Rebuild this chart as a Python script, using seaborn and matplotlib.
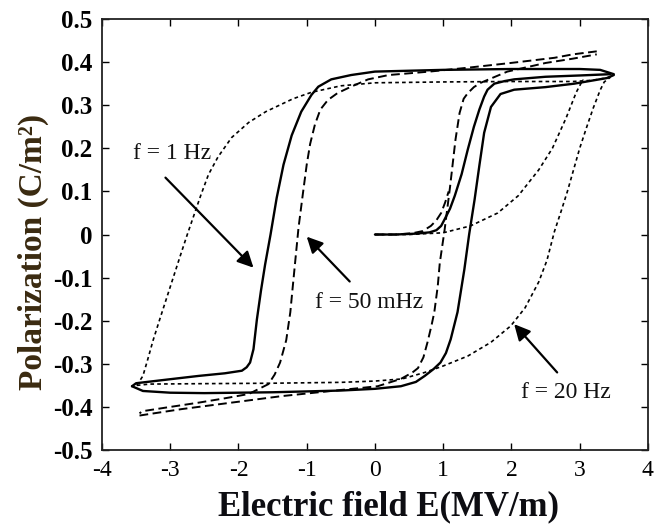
import matplotlib
matplotlib.use("Agg")
import matplotlib.pyplot as plt
import seaborn as sns
import pandas as pd

# ---- P-E hysteresis data (E in MV/m, P in C/m^2) ----
# f = 1 Hz (solid)
E_1hz_up = [-3.56, -3.4, -3.0, -2.5, -1.5, -0.5, 0.0, 0.38, 0.6, 0.73, 0.86, 0.96, 1.04,
            1.11, 1.21, 1.31, 1.38, 1.46, 1.53, 1.6, 1.7, 1.84, 2.04, 2.5, 2.92, 3.4, 3.5]
P_1hz_up = [-0.352, -0.363, -0.367, -0.368, -0.366, -0.362, -0.358, -0.352, -0.342, -0.328,
            -0.312, -0.297, -0.275, -0.243, -0.18, -0.081, 0.0, 0.081, 0.16, 0.236, 0.296,
            0.326, 0.336, 0.342, 0.35, 0.363, 0.37]
E_1hz_down = [3.5, 3.3, 3.0, 2.0, 1.0, 0.0, -0.35, -0.64, -0.83, -0.93, -1.08, -1.22, -1.34,
              -1.44, -1.53, -1.61, -1.67, -1.73, -1.78, -1.83, -1.88, -1.95, -2.2, -2.58,
              -3.07, -3.5, -3.56]
P_1hz_down = [0.372, 0.382, 0.384, 0.384, 0.382, 0.378, 0.37, 0.36, 0.343, 0.324, 0.285,
              0.23, 0.162, 0.085, 0.0, -0.07, -0.13, -0.197, -0.266, -0.297, -0.308,
              -0.316, -0.322, -0.328, -0.337, -0.345, -0.352]
E_1hz_init = [0.0, 0.3, 0.6, 0.8, 0.9, 0.97, 1.02, 1.1, 1.17, 1.27, 1.36, 1.45, 1.53, 1.6,
              1.65, 1.75, 1.9, 2.04, 2.5, 3.0, 3.45]
P_1hz_init = [0.0, 0.0, 0.002, 0.005, 0.01, 0.02, 0.035, 0.06, 0.09, 0.14, 0.197, 0.25,
              0.29, 0.32, 0.336, 0.35, 0.356, 0.36, 0.366, 0.369, 0.372]

# f = 50 mHz (long dashes)
E_50m_up = [-3.45, -2.83, -2.1, -1.37, -0.64, 0.04, 0.38, 0.55, 0.63, 0.71, 0.77, 0.83,
            0.87, 0.92, 0.95, 1.02, 1.1, 1.18, 1.24, 1.3, 1.36, 1.45, 1.55, 1.94, 2.5, 2.9,
            3.25]
P_50m_up = [-0.42, -0.405, -0.39, -0.375, -0.363, -0.352, -0.335, -0.32, -0.31, -0.285,
            -0.25, -0.21, -0.18, -0.12, -0.066, 0.01, 0.11, 0.22, 0.282, 0.315, 0.328,
            0.342, 0.352, 0.378, 0.398, 0.408, 0.418]
E_50m_down = [3.25, 2.9, 2.63, 1.99, 1.36, 0.8, 0.2, -0.1, -0.35, -0.55, -0.69, -0.8, -0.88,
              -0.95, -1.0, -1.06, -1.12, -1.17, -1.21, -1.24, -1.3, -1.39, -1.47, -1.56,
              -1.85, -2.2, -2.58, -3.0, -3.41, -3.45]
P_50m_down = [0.425, 0.418, 0.41, 0.398, 0.387, 0.378, 0.37, 0.36, 0.343, 0.328, 0.312,
              0.29, 0.255, 0.21, 0.162, 0.09, 0.016, -0.065, -0.13, -0.18, -0.245, -0.297,
              -0.325, -0.347, -0.37, -0.38, -0.39, -0.4, -0.41, -0.415]
E_50m_init = [0.0, 0.3, 0.55, 0.7, 0.82, 0.9, 0.97, 1.03, 1.08]
P_50m_init = [0.0, 0.0, 0.003, 0.008, 0.02, 0.033, 0.05, 0.075, 0.1]

# f = 20 Hz (short dashes)
E_20_up = [-3.49, -3.3, -2.5, -1.5, -0.5, 0.0, 0.4, 0.73, 1.0, 1.36, 1.7, 1.99, 2.2, 2.4,
           2.52, 2.63, 2.73, 2.82, 2.91, 3.0, 3.1, 3.2, 3.3, 3.36, 3.45]
P_20_up = [-0.35, -0.347, -0.346, -0.345, -0.343, -0.34, -0.335, -0.32, -0.305, -0.282,
           -0.25, -0.212, -0.17, -0.11, -0.06, 0.007, 0.055, 0.1, 0.15, 0.2, 0.248, 0.294,
           0.335, 0.354, 0.365]
E_20_down = [3.45, 3.2, 2.9, 2.0, 1.0, 0.0, -0.5, -0.93, -1.2, -1.6, -1.85, -2.1, -2.3,
             -2.44, -2.55, -2.65, -2.75, -2.85, -2.95, -3.05, -3.15, -3.25, -3.33, -3.4,
             -3.49]
P_20_down = [0.365, 0.358, 0.355, 0.355, 0.354, 0.352, 0.345, 0.33, 0.315, 0.285, 0.26,
             0.225, 0.18, 0.139, 0.092, 0.046, 0.0, -0.048, -0.097, -0.146, -0.195, -0.245,
             -0.29, -0.328, -0.35]
E_20_init = [0.0, 0.5, 1.0, 1.4, 1.8, 2.1, 2.4, 2.6, 2.8, 2.95, 3.05]
P_20_init = [0.0, 0.0, 0.004, 0.02, 0.05, 0.09, 0.15, 0.2, 0.27, 0.33, 0.36]

# axis ticks
x_ticks = [-4, -3, -2, -1, 0, 1, 2, 3, 4]
y_ticks = [-0.5, -0.4, -0.3, -0.2, -0.1, 0.0, 0.1, 0.2, 0.3, 0.4, 0.5]
y_tick_labels = ["-0.5", "-0.4", "-0.3", "-0.2", "-0.1", "0", "0.1", "0.2", "0.3", "0.4", "0.5"]

# frequency labels and arrows: (text, text position, arrow tail, arrow head)
labels = ["f = 1 Hz", "f = 50 mHz", "f = 20 Hz"]
label_pos = [(-2.97, 0.188), (-0.08, -0.157), (2.8, -0.366)]
arrow_tail = [(-3.07, 0.132), (-0.37, -0.109), (2.67, -0.32)]
arrow_head = [(-1.78, -0.077), (-1.0, -0.005), (2.04, -0.208)]

sns.set_style("ticks")
plt.rcParams["font.family"] = ["Liberation Serif", "DejaVu Serif"]
plt.rcParams["axes.unicode_minus"] = False

fig = plt.figure(figsize=(6.55, 5.31), dpi=100)
ax = fig.add_axes([0.1557, 0.1525, 0.8335, 0.8117])

solid = dict(color="black", linewidth=1.7, linestyle="-")
long_dash = dict(color="black", linewidth=1.4, linestyle=(0, (4.5, 2.3)))
short_dash = dict(color="black", linewidth=1.2, linestyle=(0, (2.2, 1.9)))

branches = [
    (E_20_init, P_20_init, short_dash),
    (E_20_up, P_20_up, short_dash),
    (E_20_down, P_20_down, short_dash),
    (E_50m_init, P_50m_init, long_dash),
    (E_50m_up, P_50m_up, long_dash),
    (E_50m_down, P_50m_down, long_dash),
    (E_1hz_init, P_1hz_init, solid),
    (E_1hz_up, P_1hz_up, solid),
    (E_1hz_down, P_1hz_down, solid),
]
for E, P, style in branches:
    df = pd.DataFrame({"E": E, "P": P})
    sns.lineplot(data=df, x="E", y="P", sort=False, estimator=None, ax=ax, **style)

for text, pos, tail, head in zip(labels, label_pos, arrow_tail, arrow_head):
    ax.annotate("", xy=head, xytext=tail,
                arrowprops=dict(arrowstyle="-|>", color="black", lw=1.6,
                                mutation_scale=24, shrinkA=0, shrinkB=0))
    ax.text(pos[0], pos[1], text, fontsize=17, ha="center", va="center", color="#111111")

ax.set_xlim(-4, 4)
ax.set_ylim(-0.5, 0.5)
ax.set_xticks(x_ticks)
ax.set_xticklabels([str(t) for t in x_ticks])
ax.set_yticks(y_ticks)
ax.set_yticklabels(y_tick_labels)
ax.tick_params(direction="in", top=True, right=True, length=5, width=1.0,
               colors="black", pad=7)
ax.tick_params(axis="x", labelsize=17)
ax.tick_params(axis="y", labelsize=18)
for lab in ax.get_yticklabels():
    lab.set_fontweight("bold")
for sp in ax.spines.values():
    sp.set_visible(True)
    sp.set_linewidth(1.3)
    sp.set_color("#222222")

ax.set_xlabel("Electric field E(MV/m)", fontsize=25, fontweight="bold", color="#0d0d12")
ax.xaxis.set_label_coords(0.524, -0.093)
ax.set_ylabel("Polarization (C/m²)", fontsize=24, fontweight="bold", color="#3a2a10")
ax.yaxis.set_label_coords(-0.097, 0.46)

fig.savefig("out.png", dpi=100, facecolor="white")
